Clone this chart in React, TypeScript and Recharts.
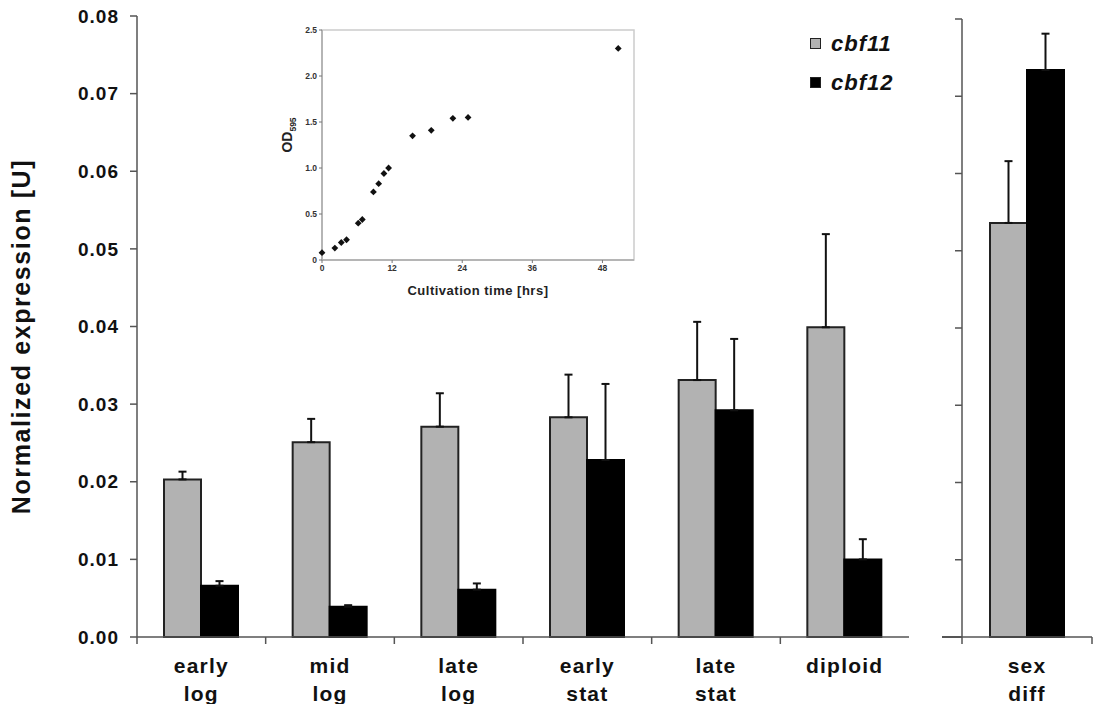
import {
  Bar,
  BarChart,
  ErrorBar,
  ReferenceArea,
  Scatter,
  ScatterChart,
  XAxis,
  YAxis,
} from 'recharts'

// growth-phase categories (left panel) and the extra sex-diff panel
const categories = ['early log', 'mid log', 'late log', 'early stat', 'late stat', 'diploid']
const cbf11 = [0.0203, 0.0251, 0.0271, 0.0283, 0.0331, 0.0399]
const cbf11Err = [0.001, 0.003, 0.0043, 0.0055, 0.0075, 0.012]
const cbf12 = [0.0066, 0.0039, 0.0061, 0.0228, 0.0292, 0.01]
const cbf12Err = [0.0006, 0.0002, 0.0008, 0.0098, 0.0092, 0.0026]

const sexCategories = ['sex diff']
const sexCbf11 = [0.0536]
const sexCbf11Err = [0.008]
const sexCbf12 = [0.0734]
const sexCbf12Err = [0.0047]

const seriesNames = ['cbf11', 'cbf12']
const yTicks = [0, 0.01, 0.02, 0.03, 0.04, 0.05, 0.06, 0.07, 0.08]

// growth curve inset
const hours = [0, 2.2, 3.3, 4.2, 6.2, 6.9, 8.8, 9.7, 10.6, 11.4, 15.5, 18.7, 22.4, 25.0, 50.7]
const od595 = [0.08, 0.13, 0.19, 0.22, 0.4, 0.44, 0.74, 0.83, 0.94, 1.0, 1.35, 1.41, 1.54, 1.55, 2.3]
const insetXTicks = [0, 12, 24, 36, 48]
const insetYTicks = [0, 0.5, 1.0, 1.5, 2.0, 2.5]

const FONT = "'Liberation Sans', Arial, sans-serif"
const GRAY = '#b2b2b2'
const AXIS = '#555'
const seriesFill = [GRAY, '#000']

const mainData = categories.map((name, i) => ({
  name,
  cbf11: cbf11[i],
  cbf12: cbf12[i],
  e11: [0, cbf11Err[i]],
  e12: [0, cbf12Err[i]],
}))

const sexData = sexCategories.map((name, i) => ({
  name,
  cbf11: sexCbf11[i],
  cbf12: sexCbf12[i],
  e11: [0, sexCbf11Err[i]],
  e12: [0, sexCbf12Err[i]],
}))

const growthData = hours.map((h, i) => ({ h, od: od595[i] }))

// category label (two lines) plus tick marks on the category boundaries
function CatTick({ x, y, payload, closeRight }: any) {
  const lines = String(payload.value).split(' ')
  const half = payload.offset ?? 0
  return (
    <g>
      <line x1={x - half} y1={y} x2={x - half} y2={y + 7} stroke={AXIS} strokeWidth={1.5} />
      {closeRight && <line x1={x + half} y1={y} x2={x + half} y2={y + 7} stroke={AXIS} strokeWidth={1.5} />}
      <text
        x={x}
        y={y}
        textAnchor="middle"
        fontSize={21}
        fontWeight="bold"
        fontFamily={FONT}
        letterSpacing={1.2}
        fill="#111"
      >
        {lines.map((l, i) => (
          <tspan key={i} x={x} dy={i === 0 ? 36 : 28}>
            {l}
          </tspan>
        ))}
      </text>
    </g>
  )
}

function YLabel({ viewBox }: any) {
  const x = viewBox.x + 30
  const y = viewBox.y + viewBox.height / 2 + 10
  return (
    <text
      x={x}
      y={y}
      transform={`rotate(-90, ${x}, ${y})`}
      textAnchor="middle"
      fontSize={25}
      fontWeight="bold"
      fontFamily={FONT}
      letterSpacing={1.6}
      fill="#111"
    >
      Normalized expression [U]
    </text>
  )
}

function ODLabel({ viewBox }: any) {
  const x = viewBox.x + 30
  const y = viewBox.y + viewBox.height / 2 - 10
  return (
    <text
      x={x}
      y={y}
      transform={`rotate(-90, ${x}, ${y})`}
      textAnchor="middle"
      fontSize={14}
      fontWeight="bold"
      fontFamily={FONT}
      fill="#222"
    >
      OD
      <tspan fontSize={8.5} dy={4}>
        595
      </tspan>
    </text>
  )
}

function Diamond({ cx, cy }: any) {
  const r = 3.4
  return <path d={`M${cx},${cy - r}L${cx + r},${cy}L${cx},${cy + r}L${cx - r},${cy}Z`} fill="#111" />
}

const tickStyle = { fontSize: 19, fontWeight: 'bold', fontFamily: FONT, fill: '#111', letterSpacing: 1 }

export default function App() {
  return (
    <div style={{ position: 'fixed', left: 0, top: 0, width: 1095, height: 704, background: '#fff' }}>
      {/* left panel */}
      <div style={{ position: 'absolute', left: 0, top: 0 }}>
        <BarChart
          width={920}
          height={704}
          data={mainData}
          margin={{ top: 16, right: 11, left: 0, bottom: 0 }}
          barSize={37}
          barGap={0}
        >
          <XAxis
            dataKey="name"
            height={67}
            axisLine={{ stroke: AXIS, strokeWidth: 1.5 }}
            tickLine={false}
            tickSize={0}
            tickMargin={0}
            tick={<CatTick />}
            interval={0}
          />
          <YAxis
            domain={[0, 0.08]}
            ticks={yTicks}
            width={137}
            tickSize={7}
            tickMargin={11}
            axisLine={{ stroke: AXIS, strokeWidth: 1.5 }}
            tickLine={{ stroke: AXIS, strokeWidth: 1.5 }}
            tick={tickStyle}
            tickFormatter={(v: number) => v.toFixed(2)}
            label={<YLabel />}
          />
          <Bar dataKey="cbf11" fill={GRAY} stroke="#222" strokeWidth={2} isAnimationActive={false}>
            <ErrorBar dataKey="e11" width={4} stroke="#111" strokeWidth={2} direction="y" />
          </Bar>
          <Bar dataKey="cbf12" fill="#000" stroke="#000" strokeWidth={2} isAnimationActive={false}>
            <ErrorBar dataKey="e12" width={4} stroke="#111" strokeWidth={2} direction="y" />
          </Bar>
        </BarChart>
      </div>

      {/* legend */}
      <div style={{ position: 'absolute', left: 810, top: 24, fontFamily: FONT }}>
        {seriesNames.map((n, i) => (
          <div key={n} style={{ display: 'flex', alignItems: 'center', height: 39 }}>
            <span
              style={{
                display: 'inline-block',
                width: 9,
                height: 9,
                background: seriesFill[i],
                border: '1.5px solid #222',
                marginRight: 10,
              }}
            />
            <span style={{ fontSize: 22, fontWeight: 'bold', fontStyle: 'italic', letterSpacing: 1, color: '#111' }}>
              {n}
            </span>
          </div>
        ))}
      </div>

      {/* right panel */}
      <div style={{ position: 'absolute', left: 920, top: 0 }}>
        <BarChart
          width={175}
          height={704}
          data={sexData}
          margin={{ top: 19, right: 3, left: 0, bottom: 0 }}
          barSize={37}
          barGap={0}
        >
          <XAxis
            dataKey="name"
            height={67}
            axisLine={{ stroke: AXIS, strokeWidth: 1.5 }}
            tickLine={false}
            tickSize={0}
            tickMargin={0}
            tick={<CatTick closeRight />}
            interval={0}
          />
          <YAxis
            domain={[0, 0.08]}
            ticks={yTicks}
            width={42}
            tickSize={7}
            axisLine={{ stroke: AXIS, strokeWidth: 1.5 }}
            tickLine={{ stroke: AXIS, strokeWidth: 1.5 }}
            tickFormatter={() => ''}
          />
          <Bar dataKey="cbf11" fill={GRAY} stroke="#222" strokeWidth={2} isAnimationActive={false}>
            <ErrorBar dataKey="e11" width={4} stroke="#111" strokeWidth={2} direction="y" />
          </Bar>
          <Bar dataKey="cbf12" fill="#000" stroke="#000" strokeWidth={2} isAnimationActive={false}>
            <ErrorBar dataKey="e12" width={4} stroke="#111" strokeWidth={2} direction="y" />
          </Bar>
        </BarChart>
      </div>
      {/* x-axis stub left of the right panel's y axis */}
      <div style={{ position: 'absolute', left: 942, top: 636, width: 20, height: 1.5, background: AXIS }} />

      {/* growth curve inset */}
      <div style={{ position: 'absolute', left: 262, top: 20 }}>
        <ScatterChart width={380} height={290} margin={{ top: 10, right: 8, left: 0, bottom: 10 }}>
          <ReferenceArea x1={0} x2={53.4} y1={0} y2={2.5} fill="none" stroke="#ccc" strokeWidth={1.5} />
          <XAxis
            type="number"
            dataKey="h"
            domain={[0, 53.4]}
            ticks={insetXTicks}
            height={40}
            tickSize={3}
            tickMargin={2}
            axisLine={{ stroke: '#aaa', strokeWidth: 1.5 }}
            tickLine={{ stroke: '#777' }}
            tick={{ fontSize: 8.5, fontWeight: 'bold', fontFamily: FONT, fill: '#333' }}
            label={{
              value: 'Cultivation time [hrs]',
              position: 'insideBottom',
              offset: 5,
              style: { fontSize: 13, fontWeight: 'bold', fontFamily: FONT, fill: '#222', letterSpacing: 0.5 },
            }}
          />
          <YAxis
            type="number"
            dataKey="od"
            domain={[0, 2.5]}
            ticks={insetYTicks}
            width={60}
            tickSize={3}
            tickMargin={2}
            axisLine={{ stroke: '#aaa', strokeWidth: 1.5 }}
            tickLine={{ stroke: '#777' }}
            tick={{ fontSize: 8.5, fontWeight: 'bold', fontFamily: FONT, fill: '#333' }}
            tickFormatter={(v: number) => (v === 0 ? '0' : v.toFixed(1))}
            label={<ODLabel />}
          />
          <Scatter data={growthData} shape={<Diamond />} isAnimationActive={false} />
        </ScatterChart>
      </div>
    </div>
  )
}
